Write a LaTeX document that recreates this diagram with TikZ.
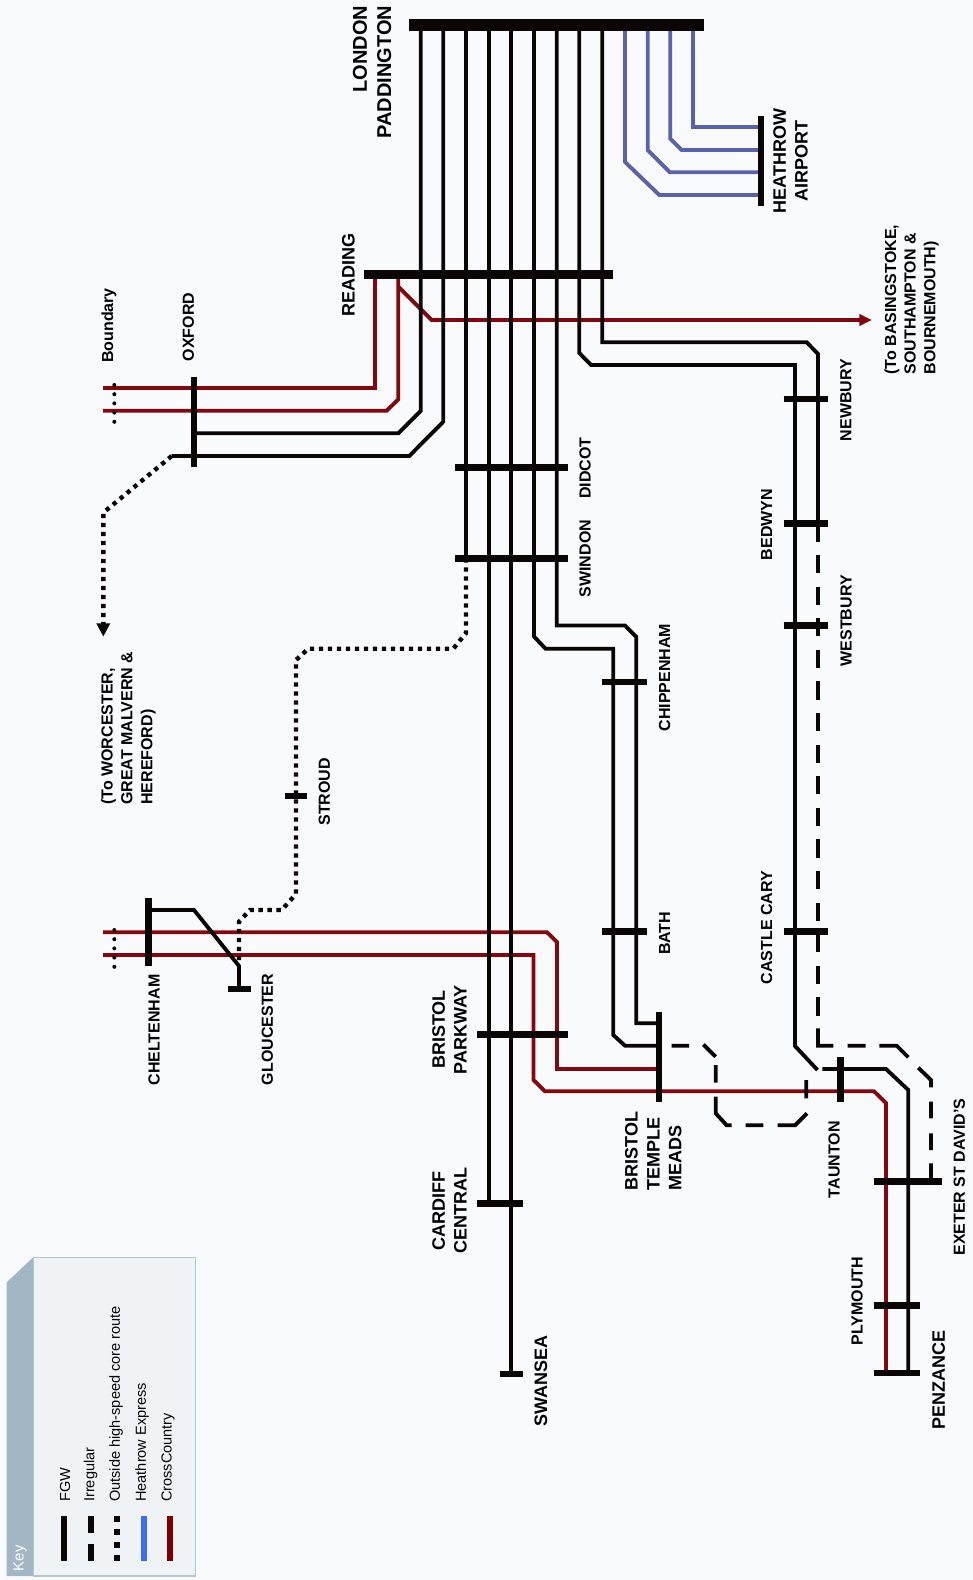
\documentclass[tikz,border=0pt]{standalone}
\usepackage{fontspec}
\setmainfont{Liberation Sans}
\usetikzlibrary{arrows.meta}
\definecolor{bgc}{HTML}{F9FAFC}
\definecolor{trk}{HTML}{0A0606}
\definecolor{xc}{HTML}{82070F}
\definecolor{hex}{HTML}{5A62AE}
\definecolor{keyfill}{HTML}{EFF3F5}
\definecolor{keyedge}{HTML}{B4C6D0}
\definecolor{keyflap}{HTML}{A3B6C3}
\definecolor{keyblue}{HTML}{3A6CF5}
\definecolor{keyred}{HTML}{7F0000}
\tikzset{
  x=0.75pt,y=-0.75pt,
  route/.style={draw=trk,line width=2.9pt},
  xcroute/.style={draw=xc,line width=2.9pt},
  hexroute/.style={draw=hex,line width=2.9pt},
  irregular/.style={draw=trk,line width=2.9pt,dash pattern=on 13.7pt off 10pt},
  outside/.style={draw=trk,line width=3.3pt,dash pattern=on 3.2pt off 3.55pt},
  bar/.style={draw=trk,line width=5pt},
  boundary/.style={draw=trk,line width=3pt,line cap=round,dash pattern=on 0pt off 6.9pt},
  big/.style={rotate=90,inner sep=0,align=center,font=\fontsize{13.5}{16.4}\selectfont\bfseries},
  small/.style={rotate=90,inner sep=0,align=center,font=\fontsize{12}{14.7}\selectfont\bfseries},
  keytext/.style={rotate=90,inner sep=0,anchor=west,font=\fontsize{10.9}{12}\selectfont},
}
\begin{document}
\begin{tikzpicture}
\useasboundingbox (0,0) rectangle (973,1580);
\fill[bgc] (0,0) rectangle (973,1580);

% key
\fill[keyflap] (6.7,1282.3) -- (33.3,1257.3) -- (33.3,1576) -- (6.7,1576) -- cycle;
\draw[keyedge,fill=keyfill,line width=0.9pt] (33.3,1257.3) rectangle (195.7,1576);
\node[rotate=90,inner sep=0,anchor=west,text=white,font=\fontsize{11.2}{12}\selectfont] (keytitle) at (20,1571.5) {Key};
\draw[trk,line width=4.5pt] (64,1516) -- (64,1561.3);
\draw[trk,line width=4.5pt] (90.7,1516) -- (90.7,1533) (90.7,1544) -- (90.7,1561.3);
\draw[trk,line width=4.5pt] (117,1516) -- (117,1521.7) (117,1529.3) -- (117,1535) (117,1542) -- (117,1547.5) (117,1555.3) -- (117,1561.3);
\draw[keyblue,line width=4.5pt] (143.7,1516) -- (143.7,1561.3);
\draw[keyred,line width=4.5pt] (170,1516) -- (170,1561.3);
\node[keytext] (k1) at (65,1502) {FGW};
\node[keytext] (k2) at (90.5,1502) {Irregular};
\node[keytext] (k3) at (116,1502) {Outside high-speed core route};
\node[keytext] (k4) at (142,1502) {Heathrow Express};
\node[keytext] (k5) at (168,1502) {CrossCountry};

% CrossCountry
\draw[xcroute] (375.3,274) -- (375.3,388) -- (103,388);
\draw[xcroute] (398.3,274) -- (398.3,399.3) -- (386.7,410.7) -- (103,410.7);
\draw[xcroute] (103,932.3) -- (547,932.3) -- (557,942) -- (557,1069) -- (659,1069);
\draw[xcroute] (103,955) -- (533.5,955) -- (533.5,1080) -- (545,1091.3) -- (874,1091.3) -- (886,1103) -- (886,1373);
\draw[xcroute,-{Triangle[width=8.5pt,length=9.5pt]}] (398.3,286.7) -- (431.7,320) -- (872,320);

% Heathrow Express
\draw[hexroute] (693,25) -- (693,127) -- (761,127);
\draw[hexroute] (670.3,25) -- (670.3,138.7) -- (681.7,150) -- (761,150);
\draw[hexroute] (647.7,25) -- (647.7,150) -- (670,172.3) -- (761,172.3);
\draw[hexroute] (625,25) -- (625,162) -- (659.3,195) -- (761,195);

% FGW
\draw[route] (420.7,25) -- (420.7,411) -- (398.3,433.3) -- (194,433.3);
\draw[route] (443.3,25) -- (443.3,421.7) -- (409.3,456) -- (171.7,456);
\draw[route] (466,25) -- (466,558.3);
\draw[route] (488.7,25) -- (488.7,1203.6);
\draw[route] (511.3,25) -- (511.3,1374);
\draw[route] (534,25) -- (534,636.5) -- (545.5,648.7) -- (613.3,648.7) -- (613.3,1035) -- (625,1045.7) -- (659,1045.7);
\draw[route] (556.7,25) -- (556.7,625.5) -- (625,625.5) -- (636.3,637) -- (636.3,1023.3) -- (659,1023.3);
\draw[route] (579.3,25) -- (579.3,353) -- (591,365) -- (795,365) -- (795,1046) -- (817.5,1070);
\draw[route] (602.3,25) -- (602.3,342.3) -- (806.7,342.3) -- (818,354) -- (818,523.7);
\draw[route] (822.3,1069) -- (886,1069) -- (908.3,1090) -- (908.3,1373);
\draw[route] (148.3,910) -- (194,910) -- (239,966) -- (239,989);

% irregular
\draw[irregular] (818,523.3) -- (818,1016);
\draw[route] (818,1028.3) -- (818,1045.7) -- (833.3,1045.7)
  (847.7,1045.7) -- (865.7,1045.7)
  (879.3,1045.7) -- (896.7,1045.7) -- (908.3,1057.3)
  (918.3,1067.7) -- (931,1080) -- (931,1087.3)
  (931,1101.7) -- (931,1118.3)
  (931,1133.3) -- (931,1150)
  (931,1163.3) -- (931,1181.7);
\draw[route] (671.7,1045.7) -- (689,1045.7)
  (703.3,1044.5) -- (715.7,1056.7)
  (715.7,1065) -- (715.7,1082.7)
  (715.7,1096.7) -- (715.7,1113.3) -- (726.7,1125.3) -- (731.7,1125.3)
  (745.7,1125.3) -- (763.3,1125.3)
  (777.7,1125.3) -- (795,1125.3) -- (807,1113.3)
  (806.3,1080) -- (806.3,1098.3);

% outside
\draw[outside,-{Triangle[width=9.75pt,length=10pt]}] (171.7,456) -- (103.3,512.7) -- (103.3,636.7);
\draw[outside] (466,558.3) -- (466,633) -- (453.3,648.7) -- (308.3,648.7) -- (296,660) -- (296,894) -- (281.7,910) -- (250,910) -- (239,921.7) -- (239,962);
\draw[boundary] (114.3,385) -- (114.3,423);
\draw[boundary] (114.3,930) -- (114.3,967);

% station bars
\draw[bar,line width=9pt] (409.3,25) -- (704.3,25);
\draw[bar,line width=6.4pt] (364,274.5) -- (613.3,274.5);
\draw[bar] (761,116) -- (761,206);
\draw[bar] (194,376.7) -- (194,467.3);
\draw[bar] (455,467.5) -- (568,467.5);
\draw[bar] (455,558.3) -- (568,558.3);
\draw[bar] (783.6,399) -- (828,399);
\draw[bar] (783.6,523.7) -- (828,523.7);
\draw[bar] (783.6,625.5) -- (828,625.5);
\draw[bar] (783.6,931.6) -- (828,931.6);
\draw[bar] (602,682) -- (647,682);
\draw[bar] (602,931.6) -- (647,931.6);
\draw[bar] (285,796) -- (306.5,796);
\draw[bar] (148.3,898.3) -- (148.3,966);
\draw[bar] (228,989) -- (250.7,989);
\draw[bar] (477,1034.4) -- (568,1034.4);
\draw[bar] (477,1203.6) -- (523,1203.6);
\draw[bar] (499.6,1374) -- (522.7,1374);
\draw[bar] (659,1011.7) -- (659,1102.3);
\draw[bar] (840.3,1057.3) -- (840.3,1102.3);
\draw[bar] (874.3,1181.7) -- (942.3,1181.7);
\draw[bar] (874.3,1305.3) -- (920,1305.3);
\draw[bar] (874.3,1373) -- (920,1373);

% labels
\node[big,align=right,font=\fontsize{15}{18.2}\selectfont\bfseries] (pad) at (372,72.3) {LONDON\\PADDINGTON};
\node[big] (lhr) at (790.5,161) {HEATHROW\\AIRPORT};
\node[big] (rdg) at (348.3,274.5) {READING};
\node[small] (bdy) at (109,325.5) {Boundary};
\node[small] (oxf) at (188.3,327) {OXFORD};
\node[small,align=left,anchor=west] (bsk) at (911.5,374.7) {(To BASINGSTOKE,\\SOUTHAMPTON \&\\BOURNEMOUTH)};
\node[small,align=left,anchor=west,font=\fontsize{12}{14.9}\selectfont\bfseries] (wor) at (128.3,805) {(To WORCESTER,\\GREAT MALVERN \&\\HEREFORD)};
\node[small] (nby) at (846,400) {NEWBURY};
\node[small] (bdw) at (766.5,524.5) {BEDWYN};
\node[small] (wsb) at (846,620.8) {WESTBURY};
\node[small] (cas) at (766.5,927.5) {CASTLE CARY};
\node[small] (did) at (585,468.3) {DIDCOT};
\node[small] (swi) at (585,558.6) {SWINDON};
\node[small] (chi) at (664.7,677.6) {CHIPPENHAM};
\node[small] (bth) at (664.7,933.3) {BATH};
\node[small] (str) at (324.3,791.7) {STROUD};
\node[small] (che) at (154,1030) {CHELTENHAM};
\node[small] (glo) at (267.3,1029.5) {GLOUCESTER};
\node[big] (bpw) at (449.5,1029.5) {BRISTOL\\PARKWAY};
\node[big] (cdf) at (449.5,1210.5) {CARDIFF\\CENTRAL};
\node[big] (swa) at (541,1380.5) {SWANSEA};
\node[big,align=left,anchor=west] (btm) at (653.3,1190.5) {BRISTOL\\TEMPLE\\MEADS};
\node[small] (tau) at (834,1159.7) {TAUNTON};
\node[small] (exd) at (959.3,1177) {EXETER ST DAVID'S};
\node[small] (ply) at (857,1301) {PLYMOUTH};
\node[big] (pnz) at (938.7,1380.3) {PENZANCE};
\end{tikzpicture}
\end{document}
